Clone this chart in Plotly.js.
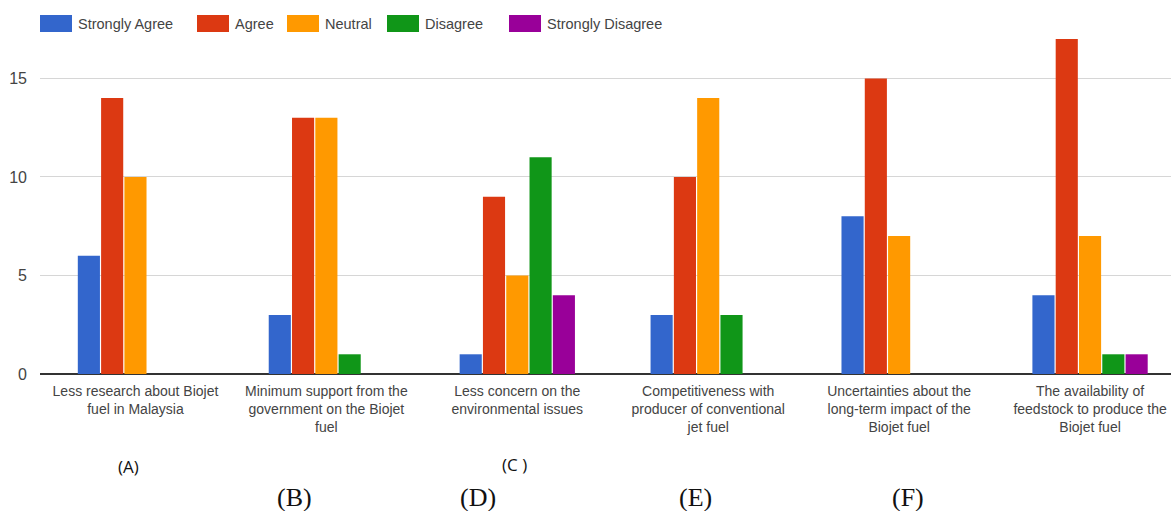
<!DOCTYPE html>
<html>
<head>
<meta charset="utf-8">
<script src="https://cdn.plot.ly/plotly-3.0.1.min.js"></script>
<style>
  html, body { margin: 0; padding: 0; background: #fff; }
  #chart { width: 1171px; height: 511px; }
</style>
</head>
<body>
<div id="chart"></div>
<script>
// Survey responses per barrier to Biojet fuel adoption
const categories = [
  "Less research about Biojet<br>fuel in Malaysia",
  "Minimum support from the<br>government on the Biojet<br>fuel",
  "Less concern on the<br>environmental issues",
  "Competitiveness with<br>producer of conventional<br>jet fuel",
  "Uncertainties about the<br>long-term impact of the<br>Biojet fuel",
  "The availability of<br>feedstock to produce the<br>Biojet fuel"
];
const seriesNames = ["Strongly Agree", "Agree", "Neutral", "Disagree", "Strongly Disagree"];
const seriesColors = ["#3366cc", "#dc3912", "#ff9900", "#109618", "#990099"];
const stronglyAgree    = [6, 3, 1, 3, 8, 4];
const agree            = [14, 13, 9, 10, 15, 17];
const neutral          = [10, 13, 5, 14, 7, 7];
const disagree         = [0, 1, 11, 3, 0, 1];
const stronglyDisagree = [0, 0, 4, 0, 0, 1];
const yTicks = [0, 5, 10, 15];
const groupLetters = ["(A)", "(C )", "(B)", "(D)", "(E)", "(F)"];

const seriesValues = [stronglyAgree, agree, neutral, disagree, stronglyDisagree];

const W = 1171, H = 511;
const M = { l: 40, r: 0, t: 37, b: 137 };
const plotW = W - M.l - M.r, plotH = H - M.t - M.b;
const px = x => (x - M.l) / plotW;
const py = y => (H - M.b - y) / plotH;

const labelFont = "'Liberation Sans', Arial, sans-serif";

const traces = seriesNames.map((name, i) => ({
  type: "bar",
  name: name,
  x: categories,
  y: seriesValues[i],
  marker: { color: seriesColors[i], line: { width: 0 } },
  hoverinfo: "x+y+name"
}));

// Legend row drawn as swatches + labels along the top
const legendX = [40, 197, 287, 387, 509];
const shapes = [];
const annotations = [];
seriesNames.forEach((name, i) => {
  shapes.push({
    type: "rect", xref: "paper", yref: "paper",
    x0: px(legendX[i]), x1: px(legendX[i] + 32),
    y0: py(32), y1: py(15),
    fillcolor: seriesColors[i], line: { width: 0 }
  });
  annotations.push({
    xref: "paper", yref: "paper",
    x: px(legendX[i] + 36), y: py(23.5),
    xanchor: "left", yanchor: "middle",
    text: name, showarrow: false,
    font: { family: labelFont, size: 14.5, color: "#444" }
  });
});

// Group letter captions under the axis labels
const sansCap = "'Open Sans', 'Noto Sans', sans-serif";
const serifCap = "'Liberation Serif', 'Times New Roman', serif";
const letterPos = [
  { x: 128, y: 467, f: sansCap, s: 17 },
  { x: 514, y: 465, f: sansCap, s: 17 },
  { x: 294, y: 497, f: serifCap, s: 26 },
  { x: 478, y: 497, f: serifCap, s: 26 },
  { x: 695, y: 497, f: serifCap, s: 26 },
  { x: 908, y: 497, f: serifCap, s: 26 }
];
groupLetters.forEach((t, i) => {
  annotations.push({
    xref: "paper", yref: "paper",
    x: px(letterPos[i].x), y: py(letterPos[i].y),
    xanchor: "center", yanchor: "middle",
    text: t, showarrow: false,
    font: { family: letterPos[i].f, size: letterPos[i].s, color: "#111" }
  });
});

const layout = {
  width: W, height: H,
  margin: M,
  paper_bgcolor: "#fff",
  plot_bgcolor: "#fff",
  showlegend: false,
  barmode: "group",
  bargap: 0.39,
  bargroupgap: 0.05,
  xaxis: {
    type: "category",
    range: [-0.5, 5.424],
    showgrid: false,
    showline: false,
    zeroline: false,
    ticks: "",
    ticklabelstandoff: 7,
    tickfont: { family: labelFont, size: 14, color: "#444" }
  },
  yaxis: {
    range: [0, 17.1],
    tickvals: yTicks,
    showgrid: true,
    gridcolor: "#d6d6d6",
    gridwidth: 1,
    zeroline: true,
    zerolinecolor: "#333",
    zerolinewidth: 2,
    showline: false,
    ticks: "",
    ticklabelstandoff: 12,
    tickfont: { family: labelFont, size: 16, color: "#444" }
  },
  shapes: shapes,
  annotations: annotations
};

Plotly.newPlot("chart", traces, layout, { displayModeBar: false, staticPlot: true });
</script>
</body>
</html>
